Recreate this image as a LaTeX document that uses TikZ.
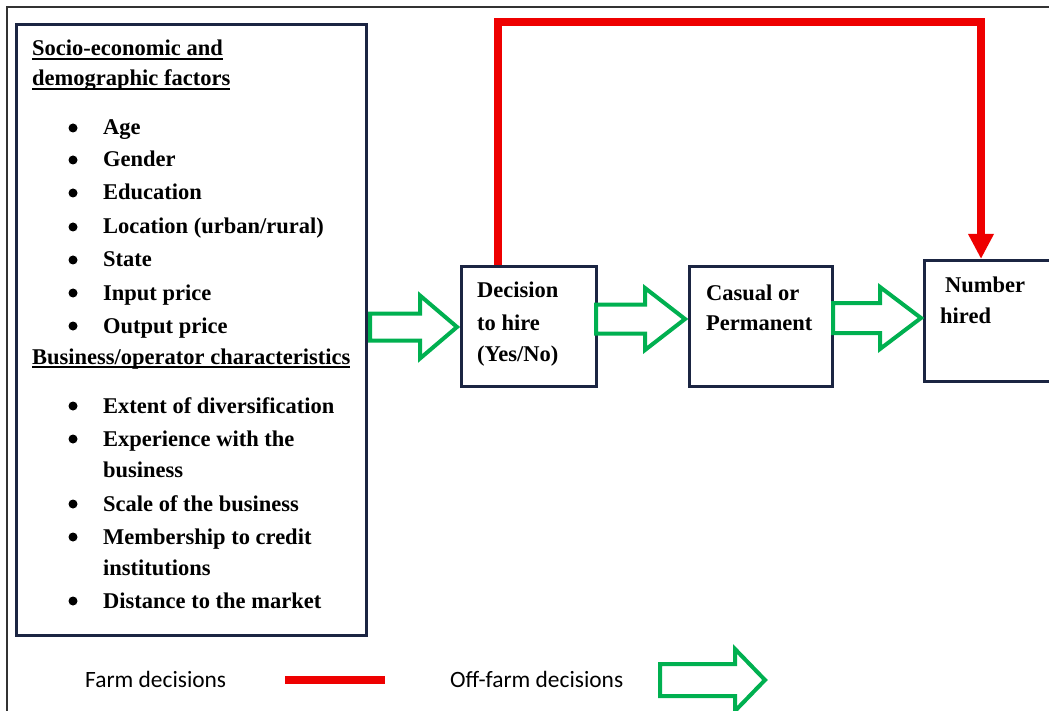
\documentclass[tikz,border=0pt]{standalone}
\usepackage{fontspec}
\setmainfont{Liberation Serif}
\newfontfamily\legendfont{Carlito}
\usetikzlibrary{arrows.meta}
\definecolor{navy}{HTML}{1B2542}
\definecolor{offgreen}{HTML}{00B050}
\definecolor{farmred}{HTML}{EE0000}
\definecolor{framegray}{HTML}{333333}
\tikzset{
  box/.style={draw=navy, line width=3pt, fill=white, anchor=north west, inner sep=0pt},
  txt/.style={anchor=base west, inner sep=0pt, font=\fontsize{22.5}{31}\selectfont\bfseries},
  legtxt/.style={anchor=base west, inner sep=0pt, font=\fontsize{23.4}{28}\selectfont\legendfont},
  garrow/.style={draw=offgreen, line width=4pt, fill=white, line join=miter},
  farm/.style={draw=farmred, line width=8pt, line join=miter},
  uline/.style={line width=1.3pt},
  bul/.style={fill=black},
}
\begin{document}
\begin{tikzpicture}[x=1pt,y=-1pt]
\useasboundingbox (0,0) rectangle (1049,711);
% outer frame
\coordinate (f0) at (7,711);
\coordinate (f1) at (7,7);
\coordinate (f2) at (1049,7);
\draw[framegray, line width=2pt] (f0) -- (f1) -- (f2);

% left factor box
\node[box, minimum width=350pt, minimum height=611pt] (fac) at (15,23) {};
\foreach \name/\yy/\tx in {1/56/{Socio-economic and}, 2/86/{demographic factors}, 3/364/{Business/operator characteristics}}{
  \node[txt] (t\name) at (32,\yy) {\tx};
  \draw[uline] ([yshift=-3pt]t\name.base west) -- ([yshift=-3pt]t\name.base east);
}
\foreach \name/\yy/\tx in {a/135/{Age}, b/167/{Gender}, c/200/{Education}, d/234/{Location (urban/rural)}, e/267/{State}, f/300/{Input price}, g/333/{Output price}, h/413/{Extent of diversification}, i/446/{Experience with the}, k/511/{Scale of the business}, l/544/{Membership to credit}, n/608/{Distance to the market}}{
  \fill[bul] (73,\yy-7) circle (4.5);
  \node[txt] (it\name) at (103,\yy) {\tx};
}
\node[txt] (itj) at (103,477) {business};
\node[txt] (itm) at (103,575) {institutions};

% decision boxes
\node[box, minimum width=135pt, minimum height=120pt] (dec) at (460,265) {};
\node[txt] (dect1) at (477,298) {Decision};
\node[txt] (dect2) at (477,330) {to hire};
\node[txt] (dect3) at (477,361) {(Yes/No)};
\node[box, minimum width=143pt, minimum height=120pt] (cas) at (688,265) {};
\node[txt] (cast1) at (706,300) {Casual or};
\node[txt] (cast2) at (706,330) {Permanent};
\node[box, minimum width=150pt, minimum height=121pt] (num) at (923,259) {};
\node[txt] (numt1) at (945,293) {Number};
\node[txt] (numt2) at (940,323) {hired};

% green block arrows (off-farm decisions)
\foreach \xa/\xb/\xt/\yc/\sh/\hh in {370/420/457/327/13.5/31.5, 596/645/685/319/14.5/31, 833/880/921/318/15/31, 660/735/765/680/16/31}{
  \draw[garrow] (\xa,\yc-\sh) -- (\xb,\yc-\sh) -- (\xb,\yc-\hh) -- (\xt,\yc) -- (\xb,\yc+\hh) -- (\xb,\yc+\sh) -- (\xa,\yc+\sh) -- cycle;
}

% red farm decision line
\coordinate (r1) at (498,22);
\coordinate (r2) at (981,22);
\draw[farm, -{Triangle[width=24pt,length=25pt]}] (dec.north -| r1) -- (r1) -- (r2) -- (num.north -| r2);

% legend
\node[legtxt] (lg1) at (85,687) {Farm decisions};
\coordinate (l1) at (285,680);
\coordinate (l2) at (385,680);
\draw[farm] (l1) -- (l2);
\node[legtxt] (lg2) at (450,687) {Off-farm decisions};
\end{tikzpicture}
\end{document}
